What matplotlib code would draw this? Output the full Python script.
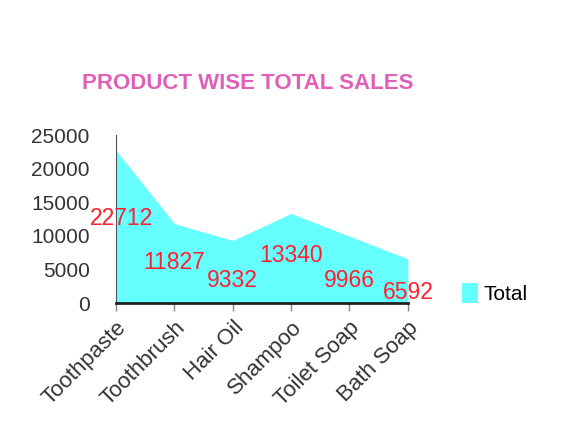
import matplotlib.pyplot as plt

plt.rcParams['font.family'] = ['Liberation Sans', 'DejaVu Sans']

products = ['Toothpaste', 'Toothbrush', 'Hair Oil', 'Shampoo', 'Toilet Soap', 'Bath Soap']
total = [22712, 11827, 9332, 13340, 9966, 6592]

# where the red value labels sit (data units)
label_y = [12650, 6100, 3420, 7140, 3420, 1640]
label_dx = [0.1, 0, 0, 0, 0, 0]

fig = plt.figure(figsize=(5.72, 4.4), dpi=100)
ax = fig.add_axes([0.203, 0.311, 0.51, 0.382])

x = list(range(len(products)))
ax.fill_between(x, total, color='#66FFFF', label='Total', linewidth=0)

for i, v in enumerate(total):
    ax.text(i + label_dx[i], label_y[i], str(v), color='#FF2030', fontsize=16.5,
            ha='center', va='center')

ax.set_xlim(0, len(products) - 1)
ax.set_ylim(0, 25000)
ax.set_yticks([0, 5000, 10000, 15000, 20000, 25000])
ax.set_xticks(x)
ax.set_xticklabels(products, rotation=45, ha='right', rotation_mode='anchor')
ax.tick_params(axis='y', length=0, labelsize=15, labelcolor='#333333', pad=19)
ax.tick_params(axis='x', length=6, width=1, color='#888888', labelsize=16,
               labelcolor='#333333', pad=4)

for s in ['top', 'right']:
    ax.spines[s].set_visible(False)
ax.spines['left'].set_color('#555555')
ax.spines['bottom'].set_color('#222222')
ax.spines['bottom'].set_linewidth(2)

fig.text(0.434, 0.81, 'PRODUCT WISE TOTAL SALES', color='#E060B8', fontsize=16,
         fontweight='bold', ha='center', va='center')

fig.legend(loc='center left', bbox_to_anchor=(0.775, 0.332), frameon=False,
           fontsize=15, handlelength=0.75, handleheight=1.1, handletextpad=0.3)

fig.savefig('out.png', dpi=100)
